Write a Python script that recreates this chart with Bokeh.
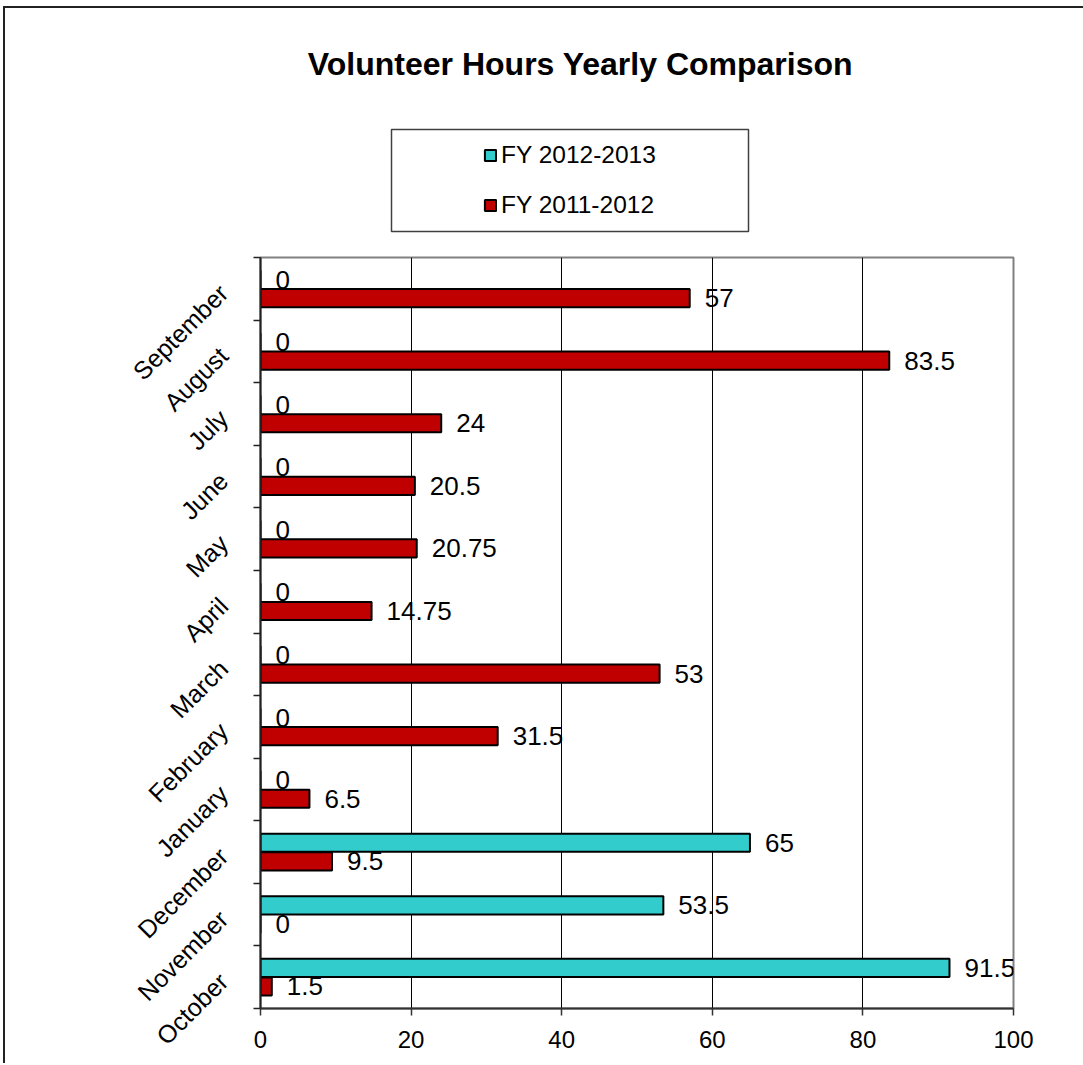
from bokeh.plotting import figure
from bokeh.layouts import column
from bokeh.models import (ColumnDataSource, Range1d, FixedTicker, Label, Legend, LegendItem,
                          BoxAnnotation, LabelSet, CustomJSTickFormatter)
from bokeh.core.properties import value
from bokeh.embed import file_html
from bokeh.resources import INLINE
import numpy as np

# ---- data ----
months = ["October", "November", "December", "January", "February", "March",
          "April", "May", "June", "July", "August", "September"]
fy_2012_2013 = [91.5, 53.5, 65, 0, 0, 0, 0, 0, 0, 0, 0, 0]
fy_2011_2012 = [1.5, 0, 9.5, 6.5, 31.5, 53, 14.75, 20.75, 20.5, 24, 83.5, 57]
series_names = ["FY 2012-2013", "FY 2011-2012"]
x_ticks = [0, 20, 40, 60, 80, 100]
grid_ticks = [20, 40, 60, 80]
title_text = "Volunteer Hours Yearly Comparison"

FONT = "Liberation Sans"
CYAN = "#33CCCC"
RED = "#C00000"

centers = np.arange(len(months)) + 0.5
offset = 0.148
bar_h = 0.29

W = 1078
HEAD_H = 239


def fmt(v):
    return f"{v:g}"


# ---------------- header (title + legend) ----------------
head = figure(width=W, height=HEAD_H, x_range=Range1d(0, 1), y_range=Range1d(0, 1),
              output_backend="svg", toolbar_location=None,
              x_axis_location=None, y_axis_location=None,
              min_border=0, min_border_left=0, min_border_right=0,
              min_border_top=0, min_border_bottom=0)
head.outline_line_color = None
head.xgrid.visible = False
head.ygrid.visible = False
head.background_fill_color = "white"
head.border_fill_color = "white"

# legend swatches: hidden renderers that only lend their style to the legend
swatch_src = ColumnDataSource(dict(y=[-5], v=[-5]))
d_new = head.hbar(y="y", right="v", left="v", height=0, source=swatch_src,
                  fill_color=CYAN, line_color="black", line_width=2, visible=False)
d_old = head.hbar(y="y", right="v", left="v", height=0, source=swatch_src,
                  fill_color=RED, line_color="black", line_width=2, visible=False)

head.add_layout(Label(x=320, y=184, x_units="screen", y_units="screen", text=title_text,
                      text_align="center", text_baseline="alphabetic",
                      text_font=FONT, text_font_size="32px", text_font_style="bold",
                      text_color="black"))

legend = Legend(items=[LegendItem(label=series_names[0], renderers=[d_new]),
                       LegendItem(label=series_names[1], renderers=[d_old])],
                location=(223, 28), padding=0, margin=0, spacing=22,
                glyph_width=14, glyph_height=14, label_standoff=4,
                label_text_font=FONT, label_text_font_size="24.5px",
                label_text_color="black", click_policy="none",
                border_line_alpha=0, background_fill_alpha=0)
head.add_layout(legend, "center")

head.add_layout(BoxAnnotation(left=131, right=488, top=118, bottom=16,
                              left_units="screen", right_units="screen",
                              top_units="screen", bottom_units="screen",
                              fill_alpha=0, line_color="#404040", line_alpha=1,
                              line_width=1.5))

# ---------------- main chart ----------------
src_new = ColumnDataSource(dict(y=centers + offset, v=fy_2012_2013,
                                label=[fmt(v) for v in fy_2012_2013]))
src_old = ColumnDataSource(dict(y=centers - offset, v=fy_2011_2012,
                                label=[fmt(v) for v in fy_2011_2012]))

p = figure(width=W, height=816,
           x_range=Range1d(0, 100), y_range=Range1d(0, len(months)),
           output_backend="svg", toolbar_location=None,
           min_border_left=255, min_border_right=W - 1008,
           min_border_top=10, min_border_bottom=55)
p.background_fill_color = "white"
p.border_fill_color = "white"
p.outline_line_color = "#808080"
p.outline_line_width = 2

r_new = p.hbar(y="y", right="v", left=0, height=bar_h, source=src_new,
               fill_color=CYAN, line_color="black", line_width=2)
r_old = p.hbar(y="y", right="v", left=0, height=bar_h, source=src_old,
               fill_color=RED, line_color="black", line_width=2)

for src in (src_new, src_old):
    p.add_layout(LabelSet(x="v", y="y", text="label", source=src, x_offset=15,
                          text_baseline="middle", text_font=value(FONT),
                          text_font_size=value("26px"), text_color="black"))

# x axis
p.xaxis.ticker = FixedTicker(ticks=x_ticks)
p.xaxis.major_tick_out = 7
p.xaxis.major_tick_in = 0
p.xaxis.minor_tick_out = 0
p.xaxis.major_label_text_font = FONT
p.xaxis.major_label_text_font_size = "24px"
p.xaxis.major_label_text_color = "black"
p.xaxis.major_label_standoff = 15
p.xaxis.axis_line_color = "#333333"
p.xaxis.axis_line_width = 2
p.xaxis.major_tick_line_color = "#333333"
p.xaxis.major_tick_line_width = 1.5

# y axis
p.yaxis.ticker = FixedTicker(ticks=list(centers), minor_ticks=list(range(len(months) + 1)))
p.yaxis.formatter = CustomJSTickFormatter(args=dict(months=months),
                                          code="return months[Math.floor(tick)] || ''")
p.yaxis.major_label_orientation = np.pi / 4
p.yaxis.major_tick_out = 0
p.yaxis.major_tick_in = 0
p.yaxis.minor_tick_out = 7
p.yaxis.minor_tick_in = 0
p.yaxis.minor_tick_line_color = "#222222"
p.yaxis.minor_tick_line_width = 1.5
p.yaxis.major_label_standoff = 30
p.yaxis.major_label_text_font = FONT
p.yaxis.major_label_text_font_size = "25px"
p.yaxis.major_label_text_color = "black"
p.yaxis.axis_line_color = "#222222"
p.yaxis.axis_line_width = 2

# grid
p.xgrid.ticker = FixedTicker(ticks=grid_ticks)
p.xgrid.grid_line_color = "black"
p.xgrid.grid_line_width = 1
p.ygrid.grid_line_color = None

layout = column(head, p, spacing=0,
                styles={"border-left": "2px solid #222222",
                        "border-top": "2px solid #222222",
                        "margin-left": "3px", "margin-top": "6px"})

open("out.html", "w").write(file_html(layout, INLINE))
